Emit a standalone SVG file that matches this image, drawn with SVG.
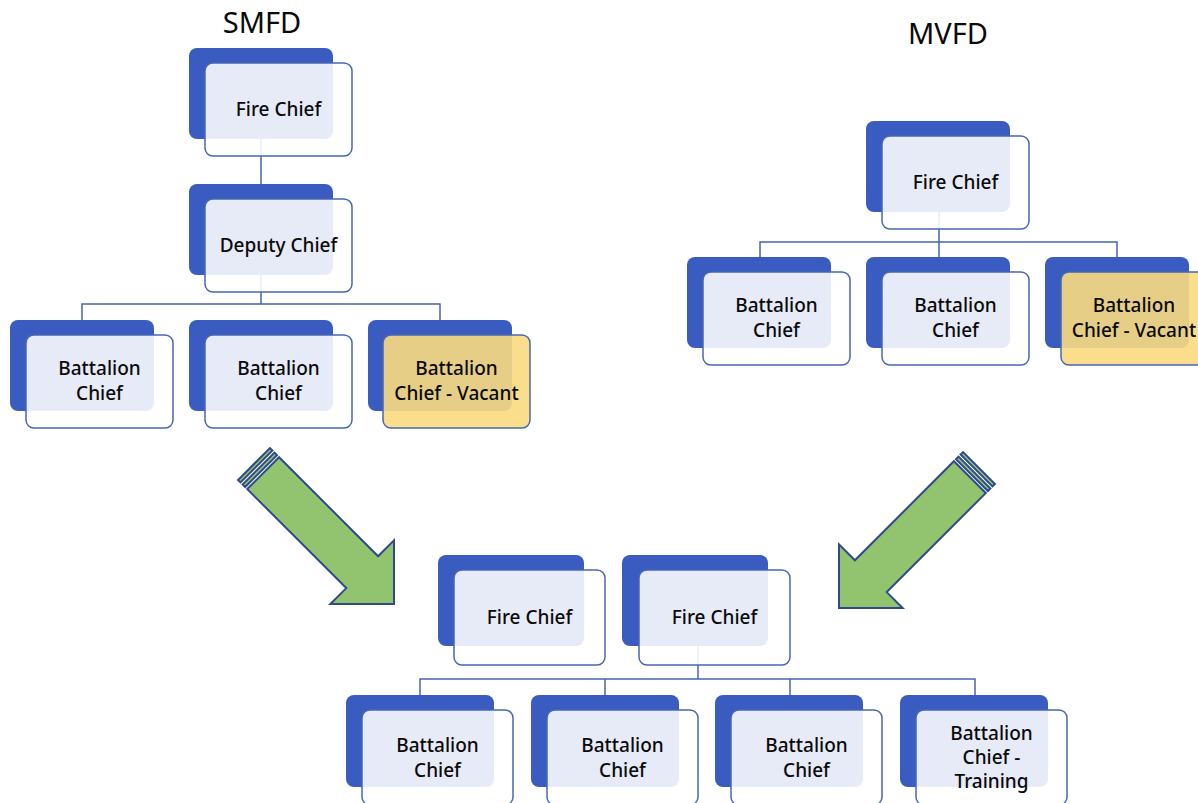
<svg xmlns="http://www.w3.org/2000/svg" width="1198" height="803" viewBox="0 0 1198 803">
<style>
.back{fill:#3a5bbf}
.front{fill:#ffffff;fill-opacity:.88;stroke:#4767b5;stroke-width:1.5}
.vac{fill:#f9da7f;fill-opacity:.9;stroke:#4767b5;stroke-width:1.5}
.t{font-family:"Noto Sans","Liberation Sans",sans-serif;font-size:19px;font-weight:500;fill:#0a0a0a;text-anchor:middle}
.title{font-family:"Noto Sans","Liberation Sans",sans-serif;font-size:29px;font-weight:400;fill:#0a0a0a;text-anchor:middle}
.conn{fill:none;stroke:#4764b0;stroke-width:1.5}
.arrow{fill:#92c46f;stroke:#2f4a8c;stroke-width:2;stroke-linejoin:miter}
</style>
<defs>
<g id="blockArrow">
<rect class="arrow" x="0" y="-22.5" width="3.5" height="45"/>
<rect class="arrow" x="6.5" y="-22.5" width="3.5" height="45"/>
<path class="arrow" d="M13,-22.5 L153,-22.5 L153,-45 L198,0 L153,45 L153,22.5 L13,22.5 Z"/>
</g>
</defs>
<rect width="1198" height="803" fill="#ffffff"/>
<text class="title" x="262" y="33">SMFD</text>
<text class="title" x="948" y="44">MVFD</text>
<g id="connectors">
<path class="conn" d="M261,139 V184"/>
<path class="conn" d="M261,275 V304"/>
<path class="conn" d="M82,320 V304 H440 V320"/>
<path class="conn" d="M939,212 V257"/>
<path class="conn" d="M760,257 V242 H1117 V257"/>
<path class="conn" d="M698,646 V679"/>
<path class="conn" d="M420,695 V679 H975 V695"/>
<path class="conn" d="M605,679 V695"/>
<path class="conn" d="M790,679 V695"/>
</g>
<g id="arrow-left"><use href="#blockArrow" transform="translate(254,464) rotate(45)"/></g>
<g id="arrow-right"><use href="#blockArrow" transform="translate(979,468) rotate(135)"/></g>
<g id="smfd-fire-chief">
<rect class="back" x="189" y="48" width="144" height="91" rx="8"/>
<rect class="front" x="205" y="63" width="147" height="93" rx="8"/>
<text class="t" x="278.5" y="116">Fire Chief</text>
</g>
<g id="smfd-deputy-chief">
<rect class="back" x="189" y="184" width="144" height="91" rx="8"/>
<rect class="front" x="205" y="199" width="147" height="93" rx="8"/>
<text class="t" x="278.5" y="252">Deputy Chief</text>
</g>
<g id="smfd-bc1">
<rect class="back" x="10" y="320" width="144" height="91" rx="8"/>
<rect class="front" x="26" y="335" width="147" height="93" rx="8"/>
<text class="t" x="99.5" y="375">Battalion</text>
<text class="t" x="99.5" y="400">Chief</text>
</g>
<g id="smfd-bc2">
<rect class="back" x="189" y="320" width="144" height="91" rx="8"/>
<rect class="front" x="205" y="335" width="147" height="93" rx="8"/>
<text class="t" x="278.5" y="375">Battalion</text>
<text class="t" x="278.5" y="400">Chief</text>
</g>
<g id="smfd-bc3">
<rect class="back" x="368" y="320" width="144" height="91" rx="8"/>
<rect class="vac" x="383" y="335" width="147" height="93" rx="8"/>
<text class="t" x="456.5" y="375">Battalion</text>
<text class="t" x="456.5" y="400">Chief - Vacant</text>
</g>
<g id="mvfd-fire-chief">
<rect class="back" x="866" y="121" width="144" height="91" rx="8"/>
<rect class="front" x="882" y="136" width="147" height="93" rx="8"/>
<text class="t" x="955.5" y="189">Fire Chief</text>
</g>
<g id="mvfd-bc1">
<rect class="back" x="687" y="257" width="144" height="91" rx="8"/>
<rect class="front" x="703" y="272" width="147" height="93" rx="8"/>
<text class="t" x="776.5" y="312">Battalion</text>
<text class="t" x="776.5" y="337">Chief</text>
</g>
<g id="mvfd-bc2">
<rect class="back" x="866" y="257" width="144" height="91" rx="8"/>
<rect class="front" x="882" y="272" width="147" height="93" rx="8"/>
<text class="t" x="955.5" y="312">Battalion</text>
<text class="t" x="955.5" y="337">Chief</text>
</g>
<g id="mvfd-bc3">
<rect class="back" x="1045" y="257" width="144" height="91" rx="8"/>
<rect class="vac" x="1061" y="272" width="147" height="93" rx="8"/>
<text class="t" x="1134" y="312">Battalion</text>
<text class="t" x="1134" y="337">Chief - Vacant</text>
</g>
<g id="merged-fire-chief-1">
<rect class="back" x="438" y="555" width="146" height="91" rx="8"/>
<rect class="front" x="454" y="570" width="151" height="95" rx="8"/>
<text class="t" x="529.5" y="624">Fire Chief</text>
</g>
<g id="merged-fire-chief-2">
<rect class="back" x="622" y="555" width="146" height="91" rx="8"/>
<rect class="front" x="639" y="570" width="151" height="95" rx="8"/>
<text class="t" x="714.5" y="624">Fire Chief</text>
</g>
<g id="merged-bc1">
<rect class="back" x="346" y="695" width="148" height="92" rx="8"/>
<rect class="front" x="362" y="710" width="151" height="95" rx="8"/>
<text class="t" x="437.5" y="752">Battalion</text>
<text class="t" x="437.5" y="777">Chief</text>
</g>
<g id="merged-bc2">
<rect class="back" x="531" y="695" width="148" height="92" rx="8"/>
<rect class="front" x="547" y="710" width="151" height="95" rx="8"/>
<text class="t" x="622.5" y="752">Battalion</text>
<text class="t" x="622.5" y="777">Chief</text>
</g>
<g id="merged-bc3">
<rect class="back" x="715" y="695" width="148" height="92" rx="8"/>
<rect class="front" x="731" y="710" width="151" height="95" rx="8"/>
<text class="t" x="806.5" y="752">Battalion</text>
<text class="t" x="806.5" y="777">Chief</text>
</g>
<g id="merged-bc4">
<rect class="back" x="900" y="695" width="148" height="92" rx="8"/>
<rect class="front" x="916" y="710" width="151" height="95" rx="8"/>
<text class="t" x="991.5" y="740">Battalion</text>
<text class="t" x="991.5" y="764">Chief -</text>
<text class="t" x="991.5" y="788">Training</text>
</g>
</svg>
